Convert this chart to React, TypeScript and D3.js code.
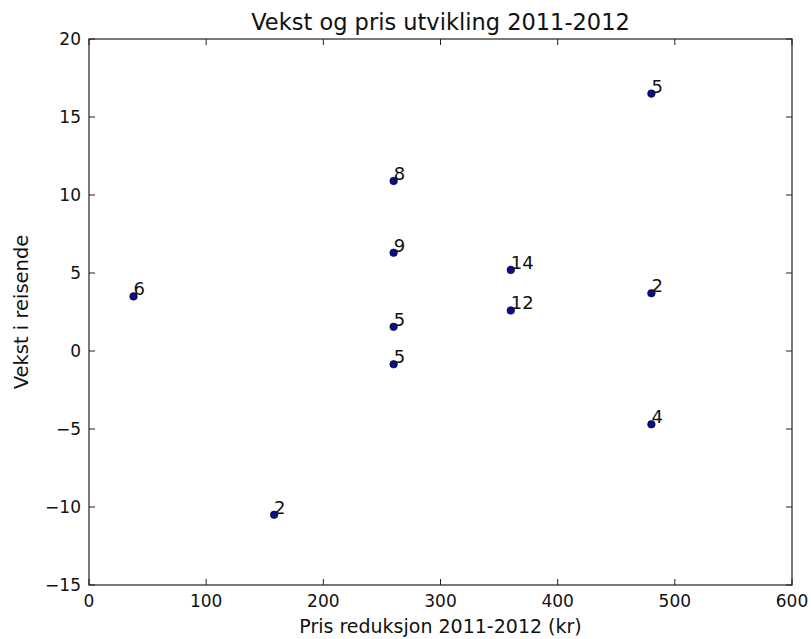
import React from "react";
import * as d3 from "d3";

// Price reduction (kr), growth in travellers, and the count annotated at each point
const priceReduction = [38, 158, 260, 260, 260, 260, 360, 360, 480, 480, 480];
const growth = [3.5, -10.5, 10.9, 6.3, 1.55, -0.85, 5.2, 2.6, 16.5, 3.7, -4.7];
const counts = ["6", "2", "8", "9", "5", "5", "14", "12", "5", "2", "4"];

const xTicks = [0, 100, 200, 300, 400, 500, 600];
const yTicks = [-15, -10, -5, 0, 5, 10, 15, 20];

const W = 811;
const H = 639;
const margin = { left: 89, right: 19, top: 39, bottom: 54 };
const font = "'DejaVu Sans', sans-serif";

export default function App() {
  const x = d3.scaleLinear().domain([0, 600]).range([margin.left, W - margin.right]);
  const y = d3.scaleLinear().domain([-15, 20]).range([H - margin.bottom, margin.top]);
  const [x0, x1] = x.range();
  const [y0, y1] = y.range();
  const tickLen = 6;

  return (
    <svg
      width={W}
      height={H}
      style={{ position: "absolute", left: 0, top: 0, background: "#fff" }}
      fontFamily={font}
    >
      <text x={(x0 + x1) / 2} y={30} textAnchor="middle" fontSize={22.5} fill="#111">
        Vekst og pris utvikling 2011-2012
      </text>

      {/* ticks on all four sides, pointing inward */}
      {xTicks.map((t) => (
        <g key={"xt" + t}>
          <line x1={x(t)} x2={x(t)} y1={y0} y2={y0 - tickLen} stroke="#222" strokeWidth={1} />
          <line x1={x(t)} x2={x(t)} y1={y1} y2={y1 + tickLen} stroke="#222" strokeWidth={1} />
          <text x={x(t)} y={y0 + 22} textAnchor="middle" fontSize={17} fill="#111">
            {t}
          </text>
        </g>
      ))}
      {yTicks.map((t) => (
        <g key={"yt" + t}>
          <line x1={x0} x2={x0 + tickLen} y1={y(t)} y2={y(t)} stroke="#222" strokeWidth={1} />
          <line x1={x1} x2={x1 - tickLen} y1={y(t)} y2={y(t)} stroke="#222" strokeWidth={1} />
          <text
            x={x0 - 8}
            y={y(t)}
            textAnchor="end"
            dominantBaseline="central"
            fontSize={17}
            fill="#111"
          >
            {t < 0 ? "\u2212" + Math.abs(t) : t}
          </text>
        </g>
      ))}

      <rect
        x={x0}
        y={y1}
        width={x1 - x0}
        height={y0 - y1}
        fill="none"
        stroke="#222"
        strokeWidth={1.2}
      />

      {priceReduction.map((p, i) => (
        <g key={"pt" + i}>
          <circle cx={x(p)} cy={y(growth[i])} r={3.8} fill="#0b0b8f" stroke="#000" strokeWidth={0.6} />
          <text x={x(p)} y={y(growth[i]) - 1} fontSize={18} fill="#111">
            {counts[i]}
          </text>
        </g>
      ))}

      <text x={(x0 + x1) / 2} y={633} textAnchor="middle" fontSize={19} fill="#111">
        Pris reduksjon 2011-2012 (kr)
      </text>
      <text
        transform={`translate(28, ${(y0 + y1) / 2}) rotate(-90)`}
        textAnchor="middle"
        fontSize={19.5}
        fill="#111"
      >
        Vekst i reisende
      </text>
    </svg>
  );
}
